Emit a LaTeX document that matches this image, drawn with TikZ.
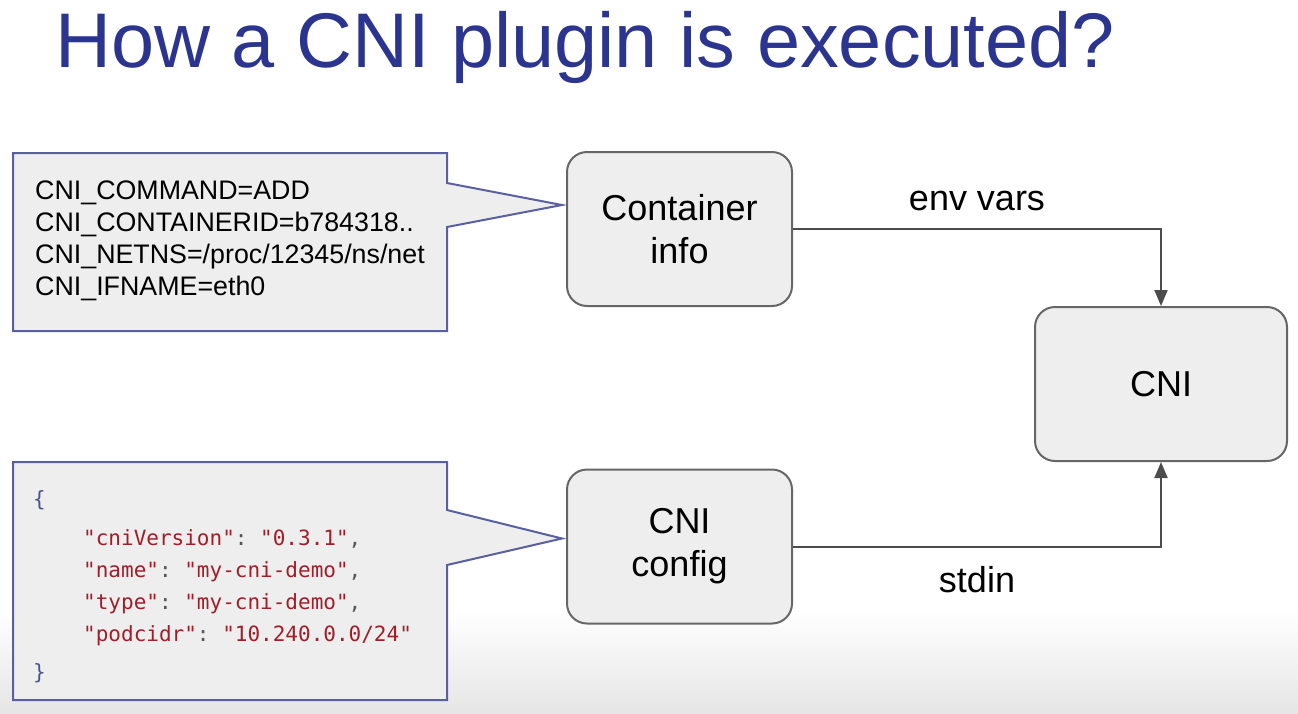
\documentclass[tikz,border=0pt]{standalone}
\usepackage{fontspec}
\setmainfont{Liberation Sans}
\setmonofont{DejaVu Sans Mono}
\usepackage{tikz}
\usetikzlibrary{arrows.meta,positioning,calc}

\definecolor{titleblue}{HTML}{2B3590}
\definecolor{boxfill}{HTML}{EEEEEE}
\definecolor{boxline}{HTML}{666666}
\definecolor{calloutline}{HTML}{5A5FA0}
\definecolor{jsonred}{HTML}{A01E28}
\definecolor{jsonbrace}{HTML}{4A5290}
\definecolor{jsonpunct}{HTML}{555555}

\newcommand{\jstr}[1]{\textcolor{jsonred}{#1}}
\newcommand{\jp}[1]{\textcolor{jsonpunct}{#1}}

\begin{document}
\begin{tikzpicture}[
        x=1pt,y=-1pt,
        >={Triangle[length=16pt,width=13pt]},
        block/.style={rectangle,draw=boxline,line width=2pt,rounded corners=20pt,fill=boxfill,minimum width=225pt,minimum height=154pt,align=center,font=\fontsize{36}{43}\selectfont},
        callout/.style={draw=calloutline,line width=2pt,fill=boxfill,line join=miter},
        arrow/.style={->,draw=black!70,line width=2pt},
        lbl/.style={font=\fontsize{36}{43}\selectfont,inner sep=3.33pt}
    ]
        \useasboundingbox (0,0) rectangle (1298,713);
        \fill[top color=white,bottom color=black!10] (0,610) rectangle (1298,713);

        \node[anchor=base west,text=titleblue,font=\fontsize{77.5}{90}\selectfont,inner sep=0] (title) at (55,67) {How a CNI plugin is executed?};

        \node[block] (container) at (679.5,229) {Container\\info};
        \node[block] (config) at (679.5,546.5) {CNI\\config};
        \node[block,minimum width=252pt] (cni) at (1161,384) {CNI};

        % callouts pointing at the two boxes
        \draw[callout] (13,153) -- (447,153) -- (447,183) -- ($(container.west)+(-4,-24)$)
            -- (447,227) -- (447,331) -- (13,331) -- cycle;
        \draw[callout] (13,462) -- (447,462) -- (447,510) -- ($(config.west)+(-4,-8)$)
            -- (447,565) -- (447,700) -- (13,700) -- cycle;

        \node[anchor=north west,align=left,inner sep=0,font=\fontsize{26.8}{32}\selectfont] (envtext) at (35,181)
            {CNI\_COMMAND=ADD\\CNI\_CONTAINERID=b784318..\\CNI\_NETNS=/proc/12345/ns/net\\CNI\_IFNAME=eth0};
        \node[anchor=north west,align=left,inner sep=0,font=\fontsize{21}{32}\ttfamily] (conftext) at (33,490)
            {\textcolor{jsonbrace}{\{}\\[7pt]
             \hspace*{50pt}\jstr{"cniVersion"}\jp{:} \jstr{"0.3.1"}\jp{,}\\
             \hspace*{50pt}\jstr{"name"}\jp{:} \jstr{"my-cni-demo"}\jp{,}\\
             \hspace*{50pt}\jstr{"type"}\jp{:} \jstr{"my-cni-demo"}\jp{,}\\
             \hspace*{50pt}\jstr{"podcidr"}\jp{:} \jstr{"10.240.0.0/24"}\\[6pt]
             \textcolor{jsonbrace}{\}}};

        \draw[arrow] (container.east) -| node[pos=0.25,above=14pt,lbl]{env vars} (cni.north);
        \draw[arrow] (config.east) -| node[pos=0.25,below=16pt,lbl]{stdin} (cni.south);
    \end{tikzpicture}
\end{document}
